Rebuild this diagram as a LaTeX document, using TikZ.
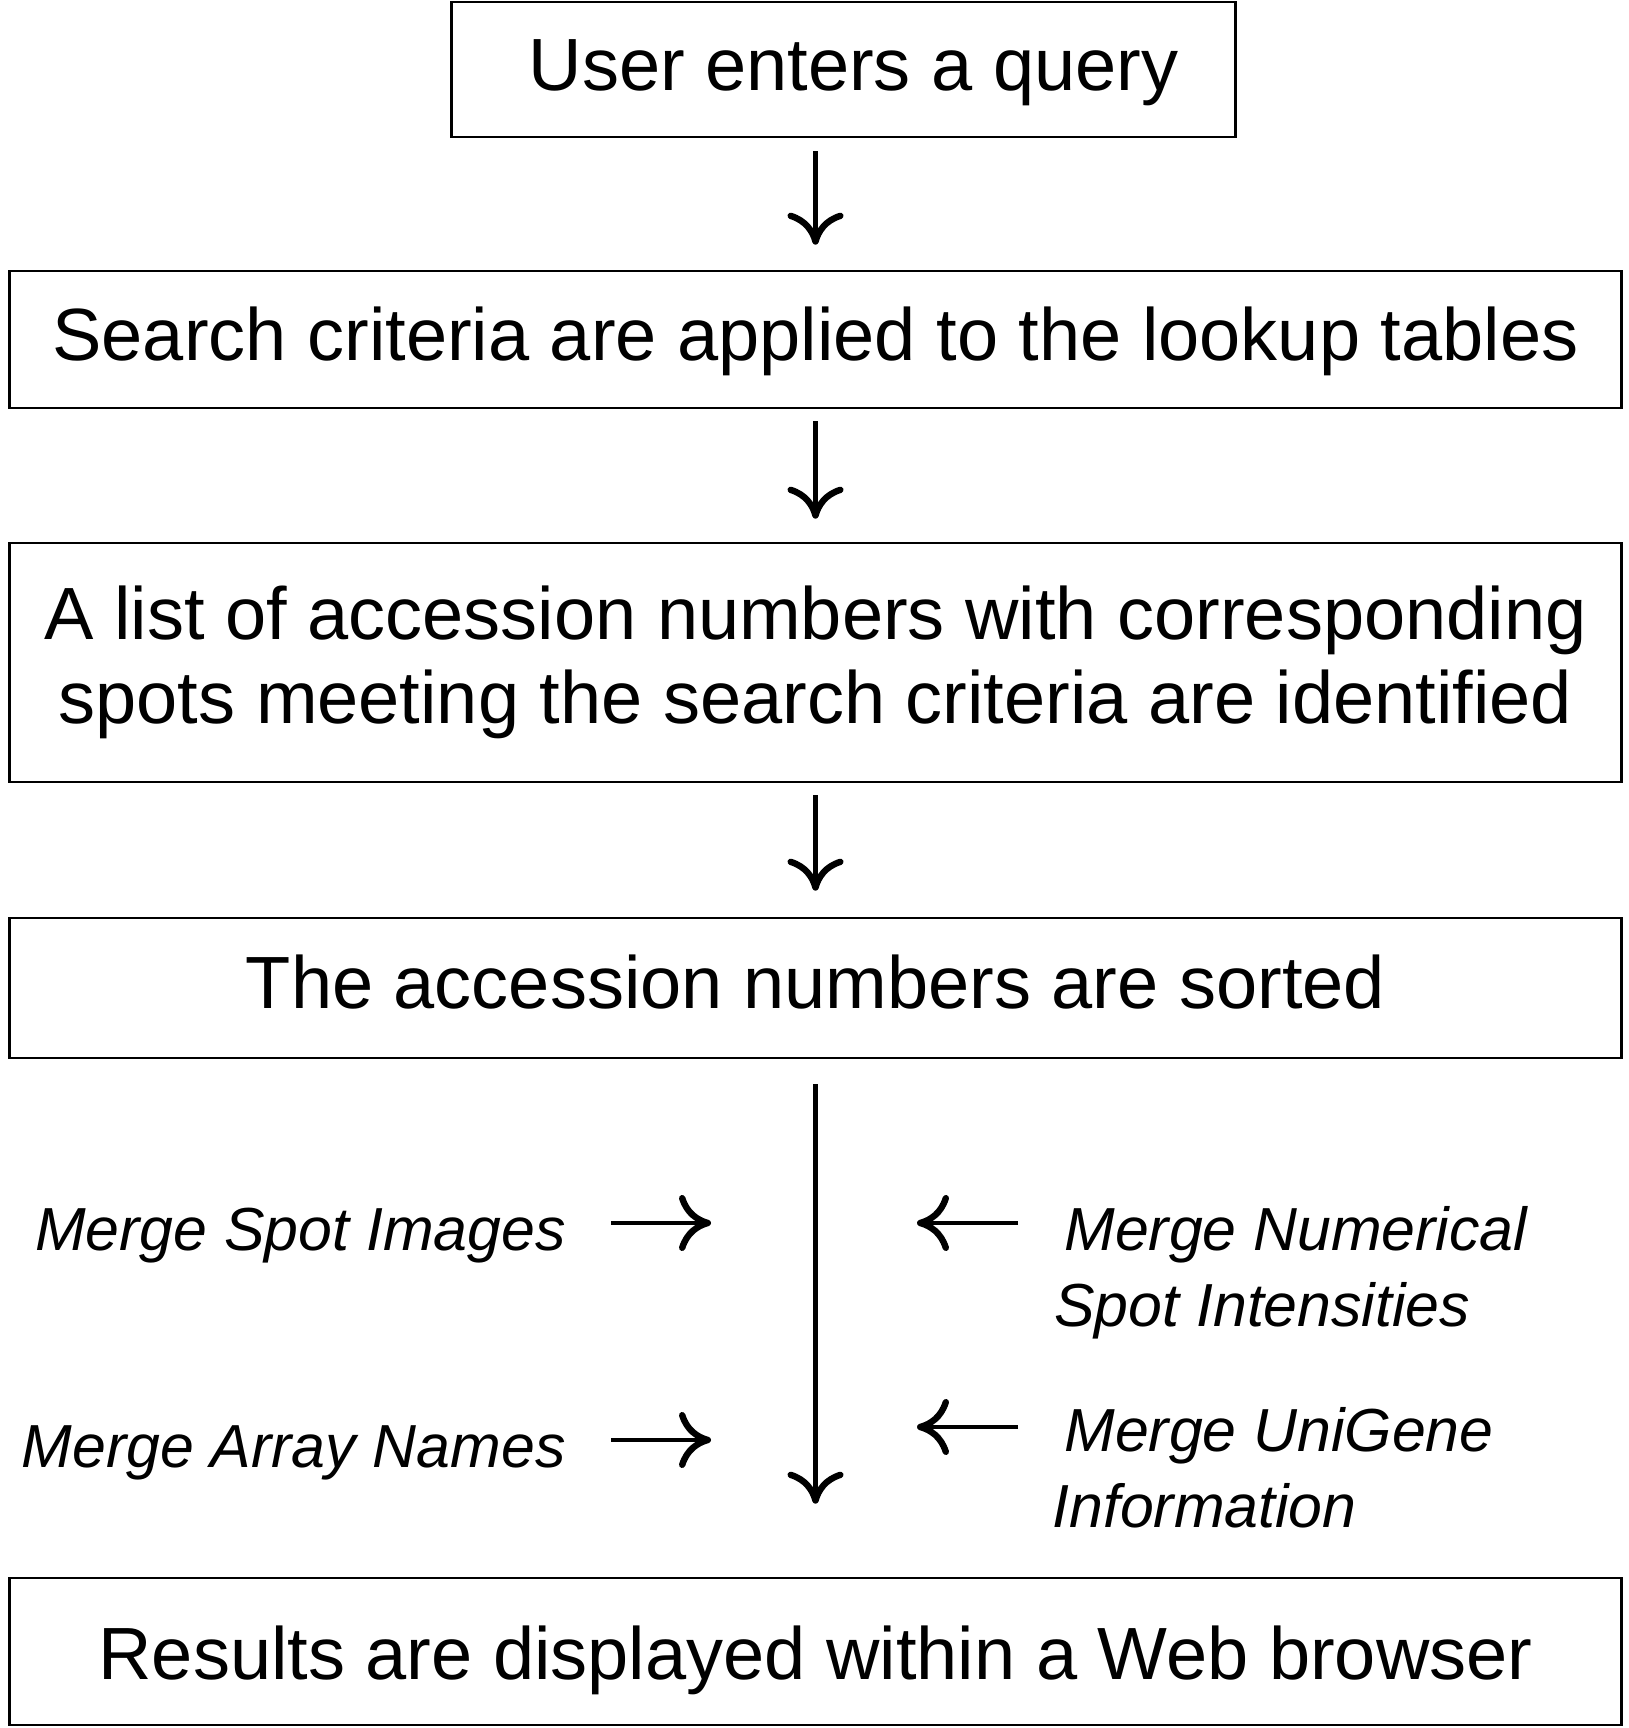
\documentclass[tikz,border=0pt]{standalone}
\usepackage{fontspec}
\setmainfont{Liberation Sans}
\usetikzlibrary{arrows.meta}

\tikzset{
  stepbox/.style={draw,line width=1.3pt,inner sep=0pt,align=center,
    font=\fontsize{37}{42}\selectfont},
  oneline/.style={text height=27pt,text depth=6pt},
  mergelabel/.style={inner sep=0pt,align=left,
    font=\fontsize{30.4}{38}\selectfont\itshape},
  flow/.style={line width=2.2pt,-{Computer Modern Rightarrow[length=16pt,width=28pt,line width=3.2pt]}},
}

\begin{document}
\begin{tikzpicture}[x=0.5pt,y=0.5pt]
  \useasboundingbox (0,0) rectangle (1628,1728);
  % the five steps, top to bottom
  \node[stepbox,oneline,minimum width=392pt,minimum height=67.5pt] (query) at (843.5,1658.5) {\hspace*{10pt}User enters a query};
  \node[stepbox,oneline,minimum width=806pt,minimum height=68.5pt] (criteria) at (815.5,1388.5) {Search criteria are applied to the lookup tables};
  \node[stepbox,minimum width=806pt,minimum height=119.5pt] (accessions) at (815.5,1065.5)
    {A list of accession numbers with corresponding\\spots meeting the search criteria are identified};
  \node[stepbox,oneline,minimum width=806pt,minimum height=70pt] (sorted) at (815.5,740) {The accession numbers are sorted};
  \node[stepbox,oneline,text height=34pt,minimum width=806pt,minimum height=73.5pt] (results) at (815.5,76.5) {Results are displayed within a Web browser};
  \draw[flow,shorten <=6.5pt,shorten >=12.5pt] (query.south -| criteria.north) -- (criteria.north);
  \draw[flow,shorten <=6pt,shorten >=11.5pt] (criteria) -- (accessions);
  \draw[flow,shorten <=6pt,shorten >=13pt] (accessions) -- (sorted);
  \draw[flow,shorten <=12.5pt,shorten >=36.5pt] (sorted) -- (results);
  % merges feeding the sorted list
  \node[mergelabel,anchor=base east] (spotimg) at (566,477) {Merge Spot Images};
  \node[mergelabel,anchor=base east] (arraynames) at (566,260) {Merge Array Names};
  \node[mergelabel,anchor=base west] (numerical) at (1054,401) {\hspace*{5pt}Merge Numerical\\Spot Intensities};
  \node[mergelabel,anchor=base west] (unigene) at (1052,200) {\hspace*{6pt}Merge UniGene\\Information};
  \coordinate (spotin) at (711,505);
  \coordinate (arrayin) at (711,288);
  \coordinate (numin) at (917,505);
  \coordinate (unigenein) at (917,301);
  \draw[flow,shorten <=22.5pt] (spotimg.east |- spotin) -- (spotin);
  \draw[flow,shorten <=22.5pt] (arraynames.east |- arrayin) -- (arrayin);
  \draw[flow,shorten <=18pt] (numerical.west |- numin) -- (numin);
  \draw[flow,shorten <=17pt] (unigene.west |- unigenein) -- (unigenein);
\end{tikzpicture}
\end{document}
